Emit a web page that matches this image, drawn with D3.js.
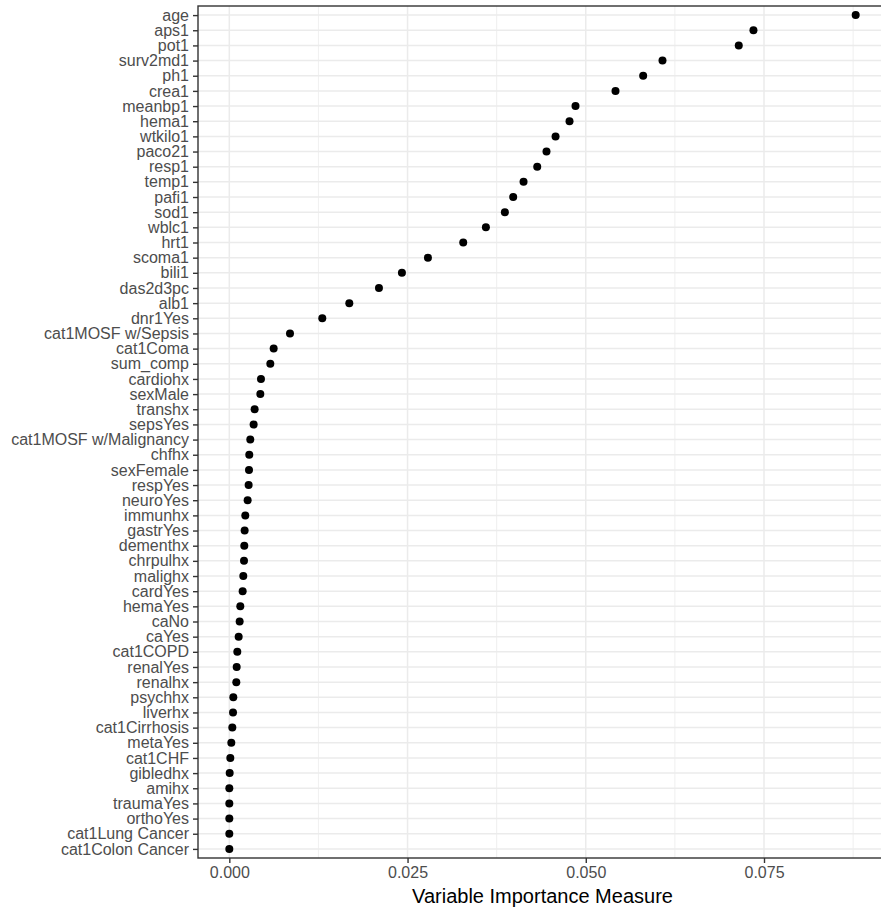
<!DOCTYPE html>
<html>
<head>
<meta charset="utf-8">
<script src="https://cdn.jsdelivr.net/npm/d3@7"></script>
<style>
  html, body { margin: 0; padding: 0; background: #fff; }
  svg { display: block; font-family: "Liberation Sans", Arial, Helvetica, sans-serif; }
</style>
</head>
<body>
<svg id="chart" width="881" height="912"></svg>
<script>
const variables = [
  "age", "aps1", "pot1", "surv2md1", "ph1", "crea1", "meanbp1", "hema1", "wtkilo1",
  "paco21", "resp1", "temp1", "pafi1", "sod1", "wblc1", "hrt1", "scoma1", "bili1",
  "das2d3pc", "alb1", "dnr1Yes", "cat1MOSF w/Sepsis", "cat1Coma", "sum_comp",
  "cardiohx", "sexMale", "transhx", "sepsYes", "cat1MOSF w/Malignancy", "chfhx",
  "sexFemale", "respYes", "neuroYes", "immunhx", "gastrYes", "dementhx", "chrpulhx",
  "malighx", "cardYes", "hemaYes", "caNo", "caYes", "cat1COPD", "renalYes", "renalhx",
  "psychhx", "liverhx", "cat1Cirrhosis", "metaYes", "cat1CHF", "gibledhx", "amihx",
  "traumaYes", "orthoYes", "cat1Lung Cancer", "cat1Colon Cancer"
];
const importance = [
  0.08786, 0.07352, 0.07146, 0.06076, 0.05805, 0.05417, 0.04856, 0.04772, 0.04576,
  0.04449, 0.04319, 0.04127, 0.03982, 0.03865, 0.03599, 0.03281, 0.02786, 0.02421,
  0.02099, 0.01683, 0.01304, 0.00851, 0.00622, 0.00575,
  0.00444, 0.00435, 0.00355, 0.00341, 0.00294, 0.00280,
  0.00276, 0.00271, 0.00257, 0.00224, 0.00215, 0.00210, 0.00206,
  0.00196, 0.00187, 0.00154, 0.00145, 0.00131, 0.00112, 0.00103, 0.00098,
  0.00056, 0.00052, 0.00042, 0.00028, 0.00014, 0.00005, 0.00000,
  0.00000, 0.00000, 0.00000, 0.00000
];
const xTicks = [0, 0.025, 0.05, 0.075];
const xMinorTicks = [0.0125, 0.0375, 0.0625, 0.0875];
const xTickLabels = ["0.000", "0.025", "0.050", "0.075"];
const xTitle = "Variable Importance Measure";

const data = variables.map((v, i) => ({ name: v, value: importance[i] }));

const svg = d3.select("#chart");
const panel = { left: 198, top: 6, right: 887, bottom: 858 };

// ggplot-like 5% expansion
const dMin = d3.min(importance), dMax = d3.max(importance);
const ext = (dMax - dMin) * 0.05;
const x = d3.scaleLinear().domain([dMin - ext, dMax + ext]).range([panel.left, panel.right]);
const y = d3.scalePoint().domain(variables).range([panel.top, panel.bottom]).padding(0.6);

// panel background
svg.append("rect").attr("x", panel.left).attr("y", panel.top)
  .attr("width", panel.right - panel.left).attr("height", panel.bottom - panel.top)
  .attr("fill", "#fff");

// minor vertical grid
svg.append("g").selectAll("line").data(xMinorTicks).join("line")
  .attr("x1", d => x(d)).attr("x2", d => x(d))
  .attr("y1", panel.top).attr("y2", panel.bottom)
  .attr("stroke", "#EBEBEB").attr("stroke-width", 0.8);

// major vertical grid
svg.append("g").selectAll("line").data(xTicks).join("line")
  .attr("x1", d => x(d)).attr("x2", d => x(d))
  .attr("y1", panel.top).attr("y2", panel.bottom)
  .attr("stroke", "#EBEBEB").attr("stroke-width", 1.5);

// major horizontal grid
svg.append("g").selectAll("line").data(variables).join("line")
  .attr("x1", panel.left).attr("x2", panel.right)
  .attr("y1", d => y(d)).attr("y2", d => y(d))
  .attr("stroke", "#EBEBEB").attr("stroke-width", 1.5);

// points
svg.append("g").selectAll("circle").data(data).join("circle")
  .attr("cx", d => x(d.value)).attr("cy", d => y(d.name))
  .attr("r", 4).attr("fill", "#000");

// panel border
svg.append("rect").attr("x", panel.left).attr("y", panel.top)
  .attr("width", panel.right - panel.left).attr("height", panel.bottom - panel.top)
  .attr("fill", "none").attr("stroke", "#333333").attr("stroke-width", 1.4);

// y axis
const yAxis = d3.axisLeft(y).tickSize(5).tickPadding(4);
const gy = svg.append("g").attr("transform", `translate(${panel.left},0)`).call(yAxis);
gy.select(".domain").remove();
gy.selectAll(".tick line").attr("stroke", "#333333").attr("stroke-width", 1.4);
gy.selectAll(".tick text").attr("fill", "#4D4D4D").attr("font-size", "16px")
  .attr("font-family", "Liberation Sans, Arial, sans-serif");

// x axis
const xAxis = d3.axisBottom(x).tickValues(xTicks).tickFormat((d, i) => xTickLabels[i])
  .tickSize(5).tickPadding(4);
const gx = svg.append("g").attr("transform", `translate(0,${panel.bottom})`).call(xAxis);
gx.select(".domain").remove();
gx.selectAll(".tick line").attr("stroke", "#333333").attr("stroke-width", 1.4);
gx.selectAll(".tick text").attr("fill", "#4D4D4D").attr("font-size", "16px")
  .attr("font-family", "Liberation Sans, Arial, sans-serif");

// x title
svg.append("text")
  .attr("x", (panel.left + panel.right) / 2).attr("y", 903)
  .attr("text-anchor", "middle").attr("font-size", "20px").attr("fill", "#000")
  .text(xTitle);
</script>
</body>
</html>
